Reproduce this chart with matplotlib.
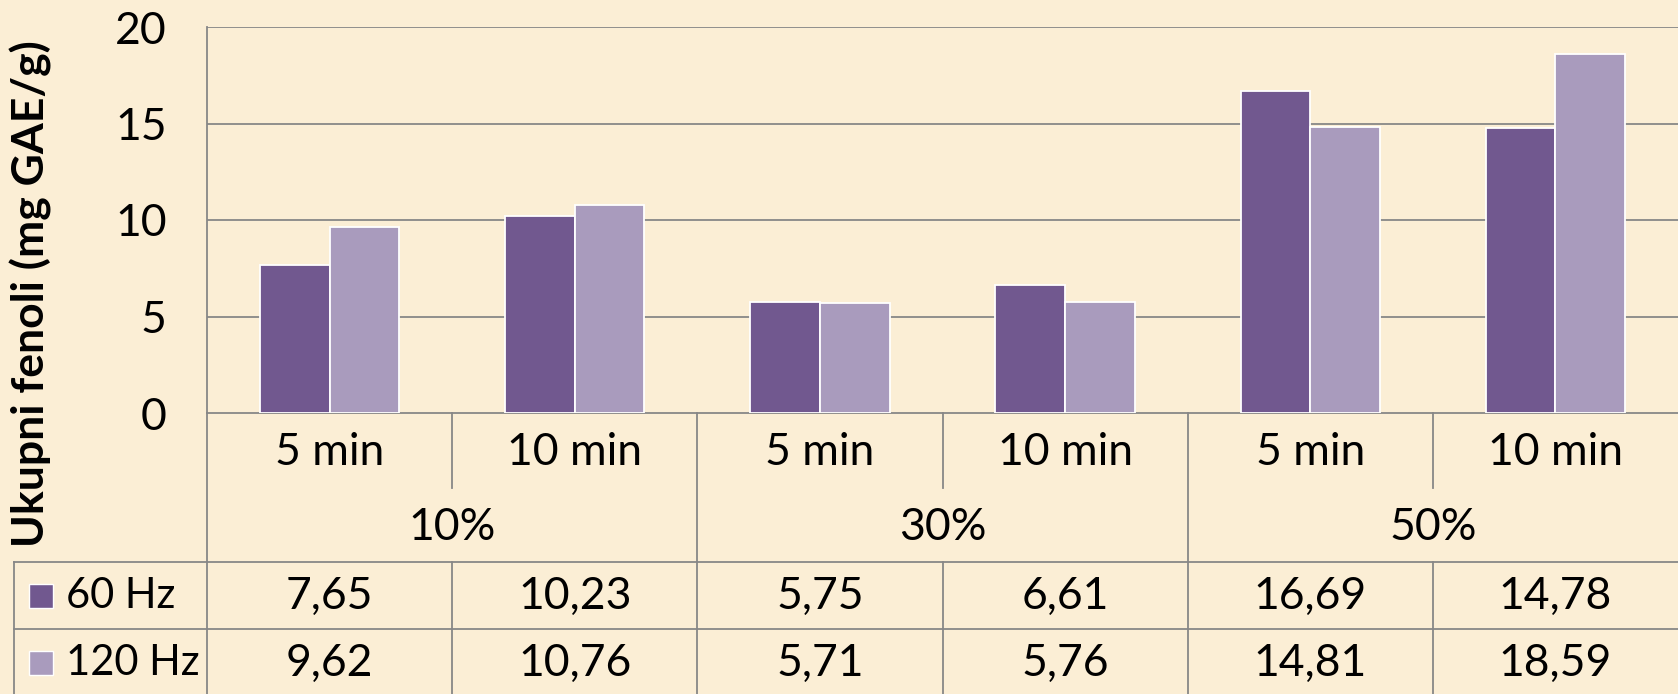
import matplotlib.pyplot as plt
import matplotlib.transforms as mtransforms
from matplotlib.patches import Rectangle

plt.rcParams['font.family'] = ['Lato', 'DejaVu Sans']

times = ['5 min', '10 min', '5 min', '10 min', '5 min', '10 min']
groups = ['10%', '30%', '50%']
series_names = ['60 Hz', '120 Hz']
hz60 = [7.65, 10.23, 5.75, 6.61, 16.69, 14.78]
hz120 = [9.62, 10.76, 5.71, 5.76, 14.81, 18.59]
yticks = [0, 5, 10, 15, 20]

dark = '#71588F'
light = '#A99BBD'
grid_c = '#878787'
bg = '#FBEED5'
fs = 32

W, H = 1678, 694
fig = plt.figure(figsize=(W / 100, H / 100), dpi=100)
fig.patch.set_facecolor(bg)

# full-figure axes in pixel coords for the data table
tab = fig.add_axes([0, 0, 1, 1])
tab.set_xlim(0, W)
tab.set_ylim(H, 0)
tab.axis('off')
tab.patch.set_alpha(0)

ax = fig.add_axes([207 / W, 1 - 413 / H, (W - 207) / W, (413 - 27) / H])
ax.patch.set_alpha(0)
n = len(times)
x = list(range(n))
w = 0.284
ax.bar([i - w / 2 for i in x], hz60, width=w, color=dark, edgecolor='white', linewidth=1.3, zorder=3)
ax.bar([i + w / 2 for i in x], hz120, width=w, color=light, edgecolor='white', linewidth=1.3, zorder=3)
ax.set_xlim(-0.5, n - 0.5)
ax.set_ylim(0, 20)
ax.set_yticks(yticks)
ax.set_yticklabels([str(v) for v in yticks], fontsize=fs)
ax.tick_params(axis='y', length=0, pad=29)
ax.set_xticks([])
for s in ['top', 'right', 'bottom']:
    ax.spines[s].set_visible(False)
ax.spines['left'].set_color(grid_c)
ax.spines['left'].set_linewidth(1.3)
for v in yticks[1:]:
    ax.axhline(v, color=grid_c, lw=1.3, zorder=1)
ax.set_ylabel('Ukupni fenoli (mg GAE/g)', fontsize=fs, fontweight='bold')
ax.yaxis.set_label_coords(-(207 - 52) / (W - 207), 0.31)

# x from category data, y in figure pixels
tr = mtransforms.blended_transform_factory(ax.transData, tab.transData)
lk = dict(color=grid_c, lw=1.3, clip_on=False)
y0, y_sub, y_r1, y_r2, y_end = 413, 488, 562, 629, 694

tab.plot([207, W], [y0, y0], **lk)
tab.plot([14, W], [y_r1, y_r1], **lk)
tab.plot([14, W], [y_r2, y_r2], **lk)
tab.plot([207, 207], [y0, y_end], **lk)
tab.plot([14, 14], [y_r1, y_end], **lk)
for i in range(1, n):
    xb = i - 0.5
    if i % 2 == 0:
        tab.plot([xb, xb], [y0, y_end], transform=tr, **lk)
    else:
        tab.plot([xb, xb], [y0, y_sub], transform=tr, **lk)
        tab.plot([xb, xb], [y_r1, y_end], transform=tr, **lk)

for i, t in enumerate(times):
    tab.text(i, 452, t, transform=tr, ha='center', va='center', fontsize=fs)
for g, name in enumerate(groups):
    tab.text(2 * g + 0.5, 527, name, transform=tr, ha='center', va='center', fontsize=fs)
for i in range(n):
    tab.text(i, 596, f'{hz60[i]:.2f}'.replace('.', ','), transform=tr, ha='center', va='center', fontsize=fs)
    tab.text(i, 663, f'{hz120[i]:.2f}'.replace('.', ','), transform=tr, ha='center', va='center', fontsize=fs)

for name, c, yc in [(series_names[0], dark, 596), (series_names[1], light, 663)]:
    tab.add_patch(Rectangle((29, yc - 12), 24, 24, facecolor=c, edgecolor='white', lw=1))
    tab.text(66, yc, name, ha='left', va='center', fontsize=30)

fig.savefig('out.png', dpi=100, facecolor=bg)
